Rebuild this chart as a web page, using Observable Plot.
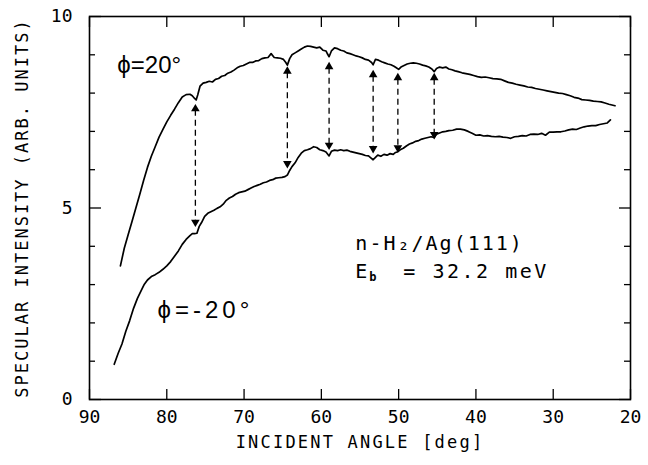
<!DOCTYPE html>
<html>
<head>
<meta charset="utf-8">
<script src="https://cdn.jsdelivr.net/npm/d3@7"></script>
<script src="https://cdn.jsdelivr.net/npm/@observablehq/plot@0.6"></script>
<style>
  body { margin: 0; background: #fff; }
  #chart svg { display: block; }
</style>
</head>
<body>
<div id="chart"></div>
<script>
// Upper curve, phi = +20 deg: [incident angle, intensity]
const upperCurve = [
  [86.0,3.49],[85.5,3.95],[85.0,4.30],[84.5,4.65],[84.0,5.00],[83.5,5.35],[83.0,5.72],[82.5,6.06],
  [82.0,6.35],[81.5,6.60],[81.0,6.85],[80.5,7.05],[80.0,7.25],[79.5,7.42],[79.0,7.58],[78.5,7.75],
  [78.0,7.90],[77.5,7.96],[77.0,7.97],[76.7,7.93],[76.4,7.86],[76.2,7.82],[76.0,7.95],[75.7,8.18],
  [75.3,8.26],[74.9,8.28],[74.5,8.31],[74.1,8.29],[73.7,8.36],[73.3,8.38],[72.9,8.44],[72.5,8.46],
  [72.1,8.52],[71.7,8.55],[71.3,8.60],[70.9,8.66],[70.5,8.70],[70.1,8.72],[69.7,8.76],[69.3,8.80],
  [68.9,8.80],[68.5,8.84],[68.1,8.85],[67.7,8.90],[67.3,8.92],[66.9,8.93],[66.5,9.03],[66.1,8.93],
  [65.7,8.92],[65.3,8.91],[64.9,8.88],[64.6,8.80],[64.4,8.73],[64.1,8.90],[63.8,9.00],[63.4,9.05],
  [63.0,9.10],[62.6,9.15],[62.2,9.20],[61.8,9.23],[61.4,9.22],[61.0,9.20],[60.6,9.18],[60.2,9.20],
  [59.8,9.12],[59.4,9.10],[59.2,9.02],[59.0,8.95],[58.7,9.10],[58.3,9.18],[57.9,9.16],[57.5,9.12],
  [57.1,9.10],[56.7,9.05],[56.3,9.03],[55.9,9.00],[55.5,8.97],[55.1,8.95],[54.7,8.92],[54.3,8.88],
  [53.9,8.86],[53.5,8.80],[53.3,8.74],[53.0,8.88],[52.6,8.86],[52.2,8.82],[51.8,8.79],[51.4,8.76],
  [51.0,8.74],[50.6,8.70],[50.3,8.66],[50.0,8.62],[49.7,8.68],[49.3,8.72],[48.9,8.76],[48.5,8.78],
  [48.1,8.79],[47.7,8.78],[47.3,8.76],[46.9,8.73],[46.5,8.71],[46.1,8.68],[45.7,8.63],[45.4,8.56],
  [45.1,8.64],[44.7,8.68],[44.3,8.66],[43.9,8.68],[43.5,8.63],[43.1,8.61],[42.7,8.58],[42.3,8.56],
  [41.8,8.53],[41.3,8.51],[40.8,8.49],[40.3,8.46],[39.8,8.43],[39.3,8.41],[38.8,8.42],[38.3,8.40],
  [37.8,8.38],[37.3,8.37],[36.8,8.36],[36.3,8.32],[35.8,8.28],[35.3,8.26],[34.8,8.23],[34.3,8.21],
  [33.8,8.19],[33.3,8.16],[32.8,8.15],[32.3,8.12],[31.8,8.10],[31.3,8.08],[30.8,8.06],[30.3,8.04],
  [29.8,8.02],[29.3,8.00],[28.8,7.99],[28.3,7.96],[27.8,7.93],[27.3,7.89],[26.8,7.87],[26.3,7.83],
  [25.8,7.82],[25.3,7.81],[24.8,7.79],[24.3,7.78],[23.8,7.77],[23.3,7.74],[22.8,7.71],[22.0,7.67]
];
// Lower curve, phi = -20 deg
const lowerCurve = [
  [86.8,0.92],[86.3,1.20],[85.8,1.45],[85.3,1.78],[84.8,2.06],[84.3,2.38],[83.8,2.64],[83.3,2.85],
  [82.9,3.01],[82.5,3.12],[82.0,3.21],[81.5,3.26],[81.0,3.32],[80.5,3.40],[80.0,3.49],[79.5,3.60],
  [79.0,3.74],[78.5,3.88],[78.0,4.05],[77.5,4.18],[77.0,4.28],[76.7,4.33],[76.4,4.33],[76.1,4.34],
  [75.8,4.52],[75.5,4.62],[75.1,4.78],[74.7,4.86],[74.3,4.90],[73.9,4.94],[73.5,4.99],[73.1,5.03],
  [72.7,5.10],[72.3,5.20],[71.9,5.26],[71.5,5.30],[71.1,5.36],[70.7,5.40],[70.3,5.42],[69.9,5.44],
  [69.5,5.48],[69.1,5.52],[68.7,5.56],[68.3,5.59],[67.9,5.62],[67.5,5.66],[67.1,5.68],[66.7,5.72],
  [66.3,5.74],[65.9,5.78],[65.5,5.79],[65.1,5.80],[64.7,5.82],[64.4,5.86],[64.1,5.98],[63.8,6.08],
  [63.4,6.18],[63.0,6.32],[62.6,6.43],[62.2,6.50],[61.8,6.52],[61.4,6.55],[61.0,6.60],[60.6,6.58],
  [60.2,6.52],[59.8,6.50],[59.4,6.46],[59.0,6.36],[58.7,6.48],[58.3,6.51],[57.9,6.50],[57.5,6.52],
  [57.1,6.50],[56.7,6.51],[56.3,6.48],[55.9,6.46],[55.5,6.44],[55.1,6.42],[54.7,6.40],[54.3,6.37],
  [53.9,6.36],[53.6,6.31],[53.3,6.26],[53.0,6.32],[52.7,6.38],[52.3,6.35],[51.9,6.40],[51.5,6.38],
  [51.1,6.42],[50.7,6.40],[50.4,6.45],[50.1,6.47],[49.8,6.52],[49.4,6.56],[49.0,6.62],[48.6,6.67],
  [48.2,6.70],[47.8,6.74],[47.4,6.76],[47.0,6.80],[46.6,6.82],[46.2,6.84],[45.8,6.86],[45.4,6.84],
  [45.1,6.93],[44.7,6.96],[44.3,6.99],[43.9,7.00],[43.5,7.02],[43.0,7.03],[42.5,7.06],[42.0,7.06],
  [41.5,7.04],[41.0,7.00],[40.5,6.95],[40.0,6.90],[39.5,6.91],[39.0,6.88],[38.5,6.89],[38.0,6.87],
  [37.5,6.86],[37.0,6.87],[36.5,6.85],[36.0,6.84],[35.5,6.82],[35.0,6.86],[34.5,6.87],[34.0,6.89],
  [33.5,6.88],[33.0,6.92],[32.5,6.93],[32.0,6.92],[31.5,6.95],[31.0,6.90],[30.5,6.98],[30.0,6.98],
  [29.5,6.99],[29.0,6.99],[28.5,7.01],[28.0,7.04],[27.5,7.06],[27.0,7.05],[26.5,7.09],[26.0,7.12],
  [25.5,7.14],[25.0,7.15],[24.5,7.15],[24.0,7.18],[23.5,7.20],[23.0,7.22],[22.6,7.30]
];
// Dashed double-headed arrows: angle, top end, bottom end
const arrowAngles = [76.3, 64.4, 59.0, 53.3, 50.1, 45.4];
const arrowTops    = [7.68, 8.66, 8.78, 8.57, 8.49, 8.49];
const arrowBottoms = [4.54, 6.07, 6.55, 6.46, 6.48, 6.83];

const xTicks = [90, 80, 70, 60, 50, 40, 30, 20];
const yMajorTicks = [0, 5, 10];
const yMinorTicks = [1, 2, 3, 4, 6, 7, 8, 9];

const xTitle = "INCIDENT ANGLE [deg]";
const yTitle = "SPECULAR INTENSITY (ARB. UNITS)";
const labelUpper = "ϕ=20°";
const labelLower = "ϕ=-20°";
const labelUpperPos = [86.4, 8.72];
const labelLowerPos = [81.2, 2.32];
const sysText = "n-H₂/Ag(111)";
const ebMain = "E";
const ebSub = "b";
const ebRest = "= 32.2 meV";
const sysPos = [55.6, 4.07];
const ebPos = [55.6, 3.35];

const up = upperCurve.map(([x, y]) => ({x, y}));
const lo = lowerCurve.map(([x, y]) => ({x, y}));
const arrows = arrowAngles.map((x, i) => ({x, top: arrowTops[i], bottom: arrowBottoms[i]}));

const mono = "'DejaVu Sans Mono', monospace";
const sans = "'Liberation Sans', sans-serif";
const ink = "#000";

const plot = Plot.plot({
  width: 648,
  height: 465,
  marginLeft: 89,
  marginRight: 18,
  marginTop: 16,
  marginBottom: 66,
  style: {fontFamily: mono, fontSize: "17px", color: "#000", background: "#fff"},
  x: {domain: [90, 20], ticks: xTicks},
  y: {domain: [0, 10]},
  marks: [
    Plot.frame({stroke: ink, strokeWidth: 1.6}),
    Plot.axisX(xTicks, {anchor: "bottom", tickSize: -10, tickPadding: 21, strokeWidth: 1.3, fontSize: 18, fill: ink, label: null}),
    Plot.axisX(xTicks, {anchor: "top", tickSize: -10, text: null, strokeWidth: 1.3, label: null}),
    Plot.axisY(yMajorTicks, {anchor: "left", tickSize: -12, tickPadding: 29, strokeWidth: 1.3, fontSize: 18, fill: ink, label: null}),
    Plot.axisY(yMinorTicks, {anchor: "left", tickSize: -6, text: null, strokeWidth: 1.3, label: null}),
    Plot.axisY(yMajorTicks, {anchor: "right", tickSize: -12, text: null, strokeWidth: 1.3, label: null}),
    Plot.axisY(yMinorTicks, {anchor: "right", tickSize: -7, text: null, strokeWidth: 1.3, label: null}),
    Plot.line(up, {x: "x", y: "y", stroke: ink, strokeWidth: 1.7}),
    Plot.line(lo, {x: "x", y: "y", stroke: ink, strokeWidth: 1.7}),
    Plot.ruleX(arrows, {x: "x", y1: "top", y2: "bottom", stroke: ink, strokeWidth: 1.3, strokeDasharray: "6,4", insetTop: 5, insetBottom: 5}),
    Plot.dot(arrows, {x: "x", y: "top", symbol: "triangle", r: 3.2, fill: ink, stroke: null, dy: 3.5}),
    Plot.dot(arrows, {x: "x", y: "bottom", symbol: "triangle", r: 3.2, fill: ink, stroke: null, rotate: 180, dy: -3.5}),
    Plot.text([labelUpper], {x: () => labelUpperPos[0], y: () => labelUpperPos[1], text: d => d, textAnchor: "start", fontSize: 24, fontFamily: sans, fill: ink}),
    Plot.text([labelLower], {x: () => labelLowerPos[0], y: () => labelLowerPos[1], text: d => d, textAnchor: "start", fontSize: 24, fontFamily: sans, fill: ink}),
    Plot.text([sysText], {x: () => sysPos[0], y: () => sysPos[1], text: d => d, textAnchor: "start", fontSize: 20, fill: ink}),
    Plot.text([ebMain], {x: () => ebPos[0], y: () => ebPos[1], text: d => d, textAnchor: "start", fontSize: 20, fill: ink}),
    Plot.text([ebSub], {x: () => ebPos[0], y: () => ebPos[1], text: d => d, textAnchor: "start", fontSize: 12, fontWeight: "bold", dx: 14, dy: 6, fill: ink}),
    Plot.text([ebRest], {x: () => ebPos[0], y: () => ebPos[1], text: d => d, textAnchor: "start", fontSize: 20, dx: 48, fill: ink}),
    Plot.text([xTitle], {frameAnchor: "bottom", text: d => d, textAnchor: "middle", dy: 48, fontSize: 17, fill: ink}),
    Plot.text([yTitle], {frameAnchor: "left", text: d => d, textAnchor: "middle", rotate: -90, dx: -67, fontSize: 17, fill: ink})
  ]
});

const spacing = new Map([
  [xTitle, "2.2px"], [yTitle, "2px"], [sysText, "2px"], [ebRest, "2.5px"], [labelLower, "4px"]
]);
d3.select(plot).selectAll("text").each(function () {
  const s = spacing.get(this.textContent);
  if (s) this.setAttribute("letter-spacing", s);
});
document.getElementById("chart").appendChild(plot);
</script>
</body>
</html>
